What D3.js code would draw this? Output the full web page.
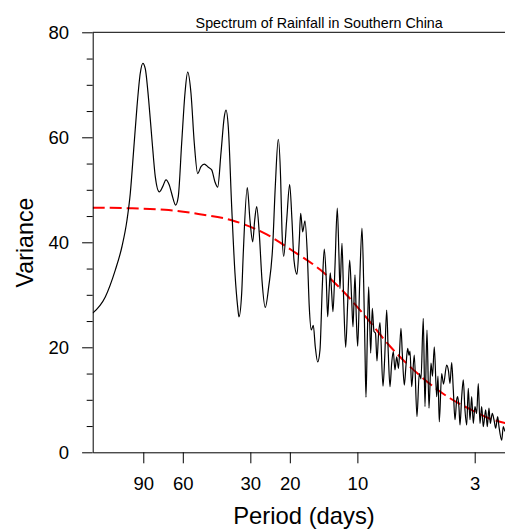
<!DOCTYPE html>
<html><head><meta charset="utf-8">
<script src="https://cdn.jsdelivr.net/npm/d3@7"></script>
<style>html,body{margin:0;padding:0;background:#fff;} svg{display:block;}</style>
</head><body><svg id="c" width="505" height="529"></svg>
<script>
// Frequency (cycles/day) and variance of the rainfall spectrum
const freq = [0.006611,0.007522,0.008335,0.008928,0.009398,0.009722,0.010067,0.010414,0.010771,0.011062,
0.011338,0.011741,0.012148,0.012566,0.013092,0.013559,0.014026,0.014508,0.014869,0.015492,
0.015911,0.016477,0.017045,0.017524,0.018127,0.018751,0.019418,0.020085,0.020777,0.021647,
0.022417,0.023189,0.023841,0.024663,0.025512,0.025961,0.026581,0.027525,0.028473,0.029273,
0.029666,0.030500,0.031004,0.032304,0.033213,0.034146,0.034854,0.035577,0.036536,0.037566,
0.038860,0.040239,0.041925,0.043058,0.044404,0.045511,0.046122,0.046934,0.048402,0.049911,
0.051108,0.052168,0.053799,0.055080,0.055882,0.057041,0.058403,0.059798,0.061034,0.062306,
0.063597,0.064916,0.066536,0.068124,0.069751,0.071197,0.072674,0.073726,0.074716,0.075720,
0.076816,0.077848,0.079461,0.081359,0.082791,0.083645,0.085380,0.086882,0.088682,0.090524,
0.092393,0.094321,0.095588,0.097570,0.098881,0.100313,0.102384,0.104834,0.106679,0.108111,
0.109227,0.110693,0.112292,0.114625,0.116522,0.118572,0.120410,0.122280,0.124175,0.126105,
0.130048,0.132336,0.135082,0.137316,0.139735,0.142194,0.144547,0.147092,0.149683,0.152469,
0.156434,0.158533,0.161821,0.164670,0.167570,0.169818,0.171573,0.174593,0.179313,0.184352,
0.188741,0.192079,0.196665,0.200127,0.204277,0.208513,0.212840,0.216141,0.220169,0.225663,
0.228691,0.231745,0.237544,0.241973,0.250054,0.254709,0.258666,0.263219,0.267574,0.272285,
0.277080,0.279939,0.283695,0.286623,0.291668,0.296494,0.301714,0.307028,0.312104,0.317602,
0.323192,0.328540,0.334324,0.340212,0.345837,0.351930,0.358124,0.364050,0.373123,0.379306,
0.385983,0.391166,0.399277,0.406305,0.413448,0.422036,0.427698,0.439718,0.446995,0.454864,
0.469085,0.483758,0.4989];
const variance = [26.5,29.6,34.7,39.2,44.2,49.3,57.6,65.8,72.2,74.1,
73.1,67.1,59.5,52.5,49.6,50.6,51.9,50.9,49.3,47.1,
48.7,58.9,68.4,72.4,68.4,58.9,53.1,54.4,54.9,54.3,
53.8,51.5,50.5,57.0,63.9,65.2,62.0,46.8,34.1,27.7,
25.8,30.3,37.9,50.4,44.2,40.1,44.2,46.8,41.7,32.8,
27.6,31.5,39.2,50.6,59.6,51.9,42.3,37.3,44.2,51.0,
44.2,36.6,33.9,40.4,45.5,42.0,44.1,37.9,27.7,23.3,
24.2,20.1,17.2,19.5,31.5,38.7,32.8,25.8,30.3,34.2,
30.3,26.8,35.4,46.5,37.3,31.2,39.8,29.0,20.0,28.4,
36.6,29.0,23.9,33.8,25.8,20.2,32.2,42.7,32.2,19.5,
10.5,21.4,31.5,18.9,27.4,23.0,22.7,17.4,22.3,24.7,
12.6,17.9,27.1,18.9,12.5,17.0,19.2,15.7,18.2,16.0,
23.6,18.9,12.8,16.5,19.8,18.5,19.3,12.5,18.5,6.8,
15.0,14.0,25.5,8.7,23.3,8.4,17.0,14.5,20.1,10.6,
14.5,5.8,15.0,13.0,16.6,15.5,13.1,17.1,12.0,6.2,
10.0,10.6,8.5,5.2,10.5,13.8,8.0,5.2,12.2,6.2,
10.6,5.5,8.7,7.4,13.1,5.5,8.7,4.9,8.1,4.9,
8.4,5.5,7.4,6.2,4.6,6.8,4.9,2.3,4.9,4.0,
6.0,4.5,5.0];
// Red-noise reference spectrum
const redFreq = [0.006611,0.009236,0.013882,0.019537,0.027525,0.039423,0.051794,0.068124,0.083645,
0.108111,0.139735,0.190117,0.258666,0.328540,0.389965,0.454864,0.4989];
const redVariance = [46.6,46.5,46.2,45.4,44.2,41.5,38.3,34.8,31.3,26.0,20.2,14.6,10.3,7.9,6.4,5.6,5.3];

const periodTicks = [90,60,30,20,10,3];
const yMajorTicks = [0,20,40,60,80];
const yMinorTicks = [5,10,15,25,30,35,45,50,55,65,70,75];
const titleText = "Spectrum of Rainfall in Southern China";
const xTitle = "Period (days)";
const yTitle = "Variance";

const L = 92.7, R = 514.2, T = 32.3, B = 452.3;
const FONT = "'Liberation Sans', Arial, Helvetica, sans-serif";
const svg = d3.select("#c");

const x = d3.scaleLog().domain([freq[0], 0.5]).range([L, R]);
const y = d3.scaleLinear().domain([0, 80]).range([B, T]);

svg.append("clipPath").attr("id","clip").append("rect")
  .attr("x", L).attr("y", T).attr("width", R - L).attr("height", B - T);

// red-noise dashed curve
const redPts = redFreq.map((f,i)=>[f, redVariance[i]]);
svg.append("path").datum(redPts)
  .attr("clip-path","url(#clip)")
  .attr("fill","none").attr("stroke","#ff0000").attr("stroke-width",2)
  .attr("stroke-dasharray","12,5")
  .attr("d", d3.line().x(d=>x(d[0])).y(d=>y(d[1])).curve(d3.curveMonotoneX));

// spectrum
const pts = freq.map((f,i)=>[f, variance[i]]);
svg.append("path").datum(pts)
  .attr("clip-path","url(#clip)")
  .attr("fill","none").attr("stroke","#000").attr("stroke-width",1.2)
  .attr("stroke-linejoin","round")
  .attr("d", d3.line().x(d=>x(d[0])).y(d=>y(d[1])).curve(d3.curveMonotoneX));

// frame (top and right)
svg.append("path").attr("fill","none").attr("stroke","#000").attr("stroke-width",1)
  .attr("d", `M${L},${T}H${R}V${B}`);

// left axis
const gy = svg.append("g").attr("transform",`translate(${L},0)`)
  .call(d3.axisLeft(y).tickValues(yMajorTicks).tickSize(10.6).tickSizeOuter(0).tickPadding(13));
const gyMinor = svg.append("g").attr("transform",`translate(${L},0)`)
  .call(d3.axisLeft(y).tickValues(yMinorTicks).tickSize(6).tickSizeOuter(0).tickFormat(""));
gyMinor.select(".domain").remove();

// bottom axis
const gx = svg.append("g").attr("transform",`translate(0,${B})`)
  .call(d3.axisBottom(x).tickValues(periodTicks.map(p=>1/p))
    .tickFormat((d,i)=>String(periodTicks[i])).tickSize(11).tickSizeOuter(0).tickPadding(14));

svg.selectAll(".tick line, .domain").attr("stroke","#000").attr("stroke-width",1);
svg.selectAll(".tick text").attr("font-family",FONT).attr("font-size",18.5).attr("fill","#000");

// titles
svg.append("text").attr("x",319.2).attr("y",27.5).attr("text-anchor","middle")
  .attr("font-family",FONT).attr("font-size",14.3).attr("fill","#000").text(titleText);
svg.append("text").attr("x",304).attr("y",523.5).attr("text-anchor","middle")
  .attr("font-family",FONT).attr("font-size",23.8).attr("fill","#000").text(xTitle);
svg.append("text").attr("transform","translate(32.5,242.5) rotate(-90)").attr("text-anchor","middle")
  .attr("font-family",FONT).attr("font-size",23.2).attr("fill","#000").text(yTitle);
</script></body></html>
